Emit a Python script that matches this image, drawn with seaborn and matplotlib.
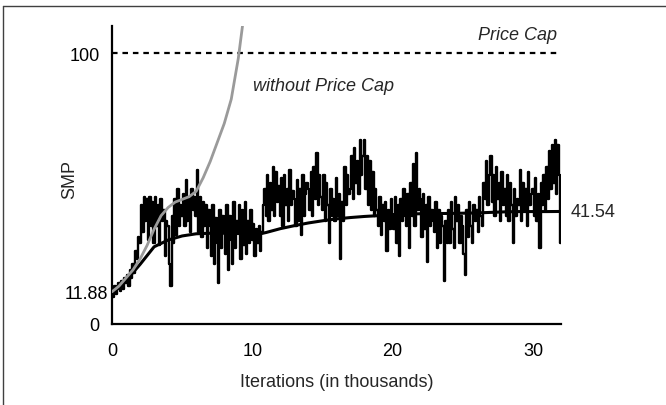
import numpy as np
import pandas as pd
import matplotlib
matplotlib.use("Agg")
import matplotlib.pyplot as plt
from matplotlib.lines import Line2D
from matplotlib.transforms import ScaledTranslation
import seaborn as sns

# ---- data ----
noisy_values = [
    12,10,14,11,13,15,12,16,13,17,
    15,18,14,20,17,22,19,27,24,32,
    30,44,34,47,38,46,31,47,36,45,
    30,47,36,44,29,46,38,42,25,38,
    36,22,14,40,30,46,33,50,36,44,
    40,48,36,53,38,46,34,50,42,47,
    40,57,34,47,32,45,36,44,28,42,
    36,25,44,22,39,30,15,42,28,40,
    34,26,44,20,40,31,22,45,28,38,
    34,44,24,42,29,45,26,38,30,42,
    31,37,25,35,30,36,27,34,44,50,
    40,55,38,52,42,58,40,56,45,51,
    40,54,36,55,44,50,38,57,44,49,
    46,36,53,38,50,33,55,40,48,52,
    50,42,56,40,58,46,63,44,55,47,
    42,55,38,52,44,30,50,40,46,38,
    54,40,48,24,45,38,58,44,55,48,
    50,62,46,65,52,60,48,68,55,62,
    68,50,62,44,60,42,56,40,50,42,
    36,47,33,44,38,45,27,42,35,46,
    40,35,47,30,44,25,46,38,50,40,
    36,48,28,52,40,59,36,63,42,50,
    46,32,48,35,44,23,47,36,42,38,
    34,45,28,42,30,40,36,16,38,30,
    42,30,45,35,28,47,38,44,30,40,
    36,26,18,42,32,45,36,30,44,38,
    42,34,47,40,36,52,46,60,44,55,
    62,45,55,40,58,46,52,38,56,44,
    50,40,55,38,52,44,30,50,40,46,
    44,57,38,52,42,50,36,56,44,48,
    50,40,54,38,48,28,52,44,55,42,
    58,46,64,50,66,52,68,48,66,55,
    30,
]
noisy_x = [i / 10 for i in range(len(noisy_values))]

mean_x = [0, 1, 2, 3, 4, 5, 6, 7, 8, 9, 10, 10.5, 11, 12, 13, 14, 15, 16, 17,
          18, 19, 20, 21, 22, 23, 24, 25, 26, 27, 28, 29, 30, 31, 32]
mean_values = [11.88, 16, 22, 28.5, 31, 32.5, 33.3, 33.5, 33.5, 33.4, 33.3, 33.2,
               33.8, 35.2, 36.3, 37.3, 38.1, 38.8, 39.3, 39.7, 40, 40.4, 40.6,
               40.7, 40.8, 40.8, 40.9, 41, 41.2, 41.4, 41.5, 41.5, 41.5, 41.54]

nocap_x = [0, 0.5, 1, 1.5, 2, 2.5, 3, 3.5, 4, 4.5, 5, 5.5, 6, 6.5, 7, 7.5, 8,
           8.5, 9, 9.3]
nocap_values = [11.9, 14, 17, 20, 24, 29, 35, 40, 43, 45, 46, 47, 49, 54, 60,
                67, 74, 83, 98, 110]

price_cap = 100
y_ticks = [0, 11.88, 100]
y_tick_labels = ["0", "11.88", "100"]
x_ticks = [0, 10, 20, 30]
final_label = "41.54"

# ---- plot ----
sns.set_style("white")
plt.rcParams['font.family'] = ['Liberation Sans', 'DejaVu Sans']
FS = 13

fig = plt.figure(figsize=(6.66, 4.06), dpi=100)
ax = fig.add_axes([112/666, 81/406, 449/666, 298/406])

df_noisy = pd.DataFrame({"x": noisy_x, "y": noisy_values})
df_mean = pd.DataFrame({"x": mean_x, "y": mean_values})
df_nocap = pd.DataFrame({"x": nocap_x, "y": nocap_values})

sns.lineplot(data=df_noisy, x="x", y="y", ax=ax, color="black", lw=1.7,
             sort=False, estimator=None, zorder=3, drawstyle="steps-mid")
sns.lineplot(data=df_mean, x="x", y="y", ax=ax, color="black", lw=2.2,
             sort=False, estimator=None, zorder=4)
sns.lineplot(data=df_nocap, x="x", y="y", ax=ax, color="#9a9a9a", lw=2.0,
             sort=False, estimator=None, zorder=5)

ax.plot([0, 32], [price_cap, price_cap], color="black", lw=1.6,
        linestyle=(0, (2.5, 2.2)), zorder=1)

ax.set_xlim(0, 32)
ax.set_ylim(0, 110)
ax.set_xticks(x_ticks)
ax.set_yticks(y_ticks)
ax.set_yticklabels(y_tick_labels)

for s in ["top", "right"]:
    ax.spines[s].set_visible(False)
for s in ["left", "bottom"]:
    ax.spines[s].set_color("black")
    ax.spines[s].set_linewidth(1.6)

ax.tick_params(axis="both", direction="inout", length=6, width=1.4,
               labelsize=FS, colors="black")
ax.tick_params(axis="y", pad=6)
ax.tick_params(axis="x", pad=10)

# the 11.88 label sits right against the axis in the reference
for lab in ax.get_yticklabels():
    if lab.get_text() == "11.88":
        lab.set_transform(lab.get_transform() +
                          ScaledTranslation(6/72, 0, fig.dpi_scale_trans))
ax.yaxis.get_major_ticks()[1].tick1line.set_visible(False)
ax.yaxis.get_major_ticks()[1].tick2line.set_visible(False)

ax.set_xlabel("Iterations (in thousands)", fontsize=FS, labelpad=10)
ax.set_ylabel("SMP", fontsize=FS)
ax.yaxis.set_label_coords(-0.075, 0.487)

ax.text(31.7, 107, "Price Cap", fontsize=FS, style="italic",
        ha="right", va="center")
ax.text(10.05, 88.2, "without Price Cap", fontsize=FS, style="italic",
        ha="left", va="center")
ax.text(32.7, 41.4, final_label, fontsize=FS, ha="left", va="center",
        clip_on=False)

# thin frame at top and left, as in the reference
fig.add_artist(Line2D([3/666, 1], [1 - 7/406, 1 - 7/406], color="#404040",
                      lw=1.0, transform=fig.transFigure))
fig.add_artist(Line2D([3/666, 3/666], [0, 1 - 7/406], color="#404040",
                      lw=1.0, transform=fig.transFigure))

fig.savefig("out.png", dpi=100)
